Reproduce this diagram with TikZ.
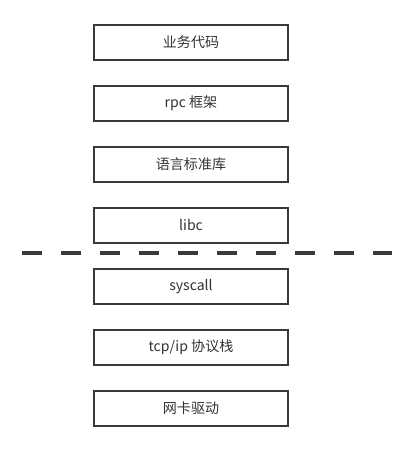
\documentclass[tikz,border=0pt]{standalone}
\usepackage{fontspec}
\setmainfont{Noto Sans CJK SC}
\usetikzlibrary{positioning}

\definecolor{edgegray}{HTML}{3A3A3A}
\definecolor{textgray}{HTML}{333333}

\begin{document}
\begin{tikzpicture}[
    node distance=0.6cm,
    layer/.style={rectangle, draw=edgegray, line width=1.3pt, minimum width=4.85cm, minimum height=0.88cm, font=\fontsize{10pt}{12pt}\selectfont, text=textgray},
    cutline/.style={draw=edgegray, line width=2.4pt, dash pattern=on 0.5cm off 0.475cm}
]
    \useasboundingbox (0,0) rectangle (10.35,11.3);

    % user space
    \node [layer] (biz) at (4.775,10.24) {业务代码};
    \node [layer, below=of biz] (rpc) {rpc 框架};
    \node [layer, below=of rpc] (stdlib) {语言标准库};
    \node [layer, below=of stdlib] (libc) {libc};

    % kernel space
    \node [layer, below=of libc] (syscall) {syscall};
    \node [layer, below=of syscall] (tcpip) {tcp/ip 协议栈};
    \node [layer, below=of tcpip] (driver) {网卡驱动};

    % boundary
    \coordinate (cutL) at (0.55,4.975);
    \coordinate (cutR) at (9.8,4.975);
    \path [cutline] (cutL) -- (cutR);

\end{tikzpicture}
\end{document}
